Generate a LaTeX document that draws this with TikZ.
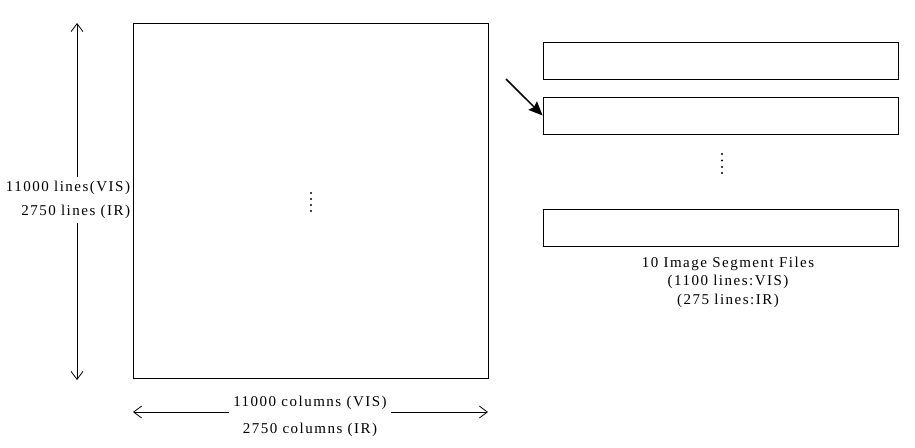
\documentclass[tikz,border=0pt]{standalone}
\usepackage{fontspec}
\setmainfont{Liberation Serif}[LetterSpace=10]
\usetikzlibrary{arrows.meta,positioning}
\begin{document}
\begin{tikzpicture}[x=1pt,y=-1pt,line width=0.8pt,
  font=\fontsize{15}{18}\selectfont,
  sizearrow/.style={-{Straight Barb[length=8pt,width=12pt]}},
  segbox/.style={draw,minimum width=355pt,minimum height=37pt,inner sep=0pt}]
\useasboundingbox (0,0) rectangle (915,447);
% the whole image
\node[draw,minimum width=355pt,minimum height=355pt,inner sep=0pt] (image) at (310.5,200.5) {};
\foreach \y in {193,199,205,211}
  \fill (311,\y) circle (1.1pt);
% the number of lines
\coordinate (vtop) at (77,23);
\coordinate (vbot) at (77,380);
\node[align=right,font=\fontsize{15}{24}\selectfont,inner sep=4pt] (lines) at (68,200) {11000 lines(VIS)\\2750 lines (IR)};
\draw[sizearrow] (lines.north -| vtop) -- (vtop);
\draw[sizearrow] (lines.south -| vtop) -- (vbot);
% the number of columns
\coordinate (hleft) at (133,412);
\coordinate (hright) at (488,412);
\node[align=center,font=\fontsize{15}{27}\selectfont,inner sep=4pt] (cols) at (310,416) {11000 columns (VIS)\\2750 columns (IR)};
\draw[sizearrow] (cols.west |- hleft) -- (hleft);
\draw[sizearrow] (cols.east |- hright) -- (hright);
% the segment files
\node[segbox] (seg1) at (720.5,60.5) {};
\node[segbox] (seg2) at (720.5,115.5) {};
\node[segbox] (seg3) at (720.5,227.5) {};
\foreach \y in {154,160.5,167,173}
  \fill (722,\y) circle (1.1pt);
\node[align=center,font=\fontsize{15}{18.5}\selectfont] (segtext) at (728,282) {10 Image Segment Files\\(1100 lines:VIS)\\(275 lines:IR)};
\coordinate (from) at (506,79);
\draw[line width=1.5pt,-{Stealth[length=14pt,width=12pt,inset=2pt]}] (from) -- (seg2.west);
\end{tikzpicture}
\end{document}
